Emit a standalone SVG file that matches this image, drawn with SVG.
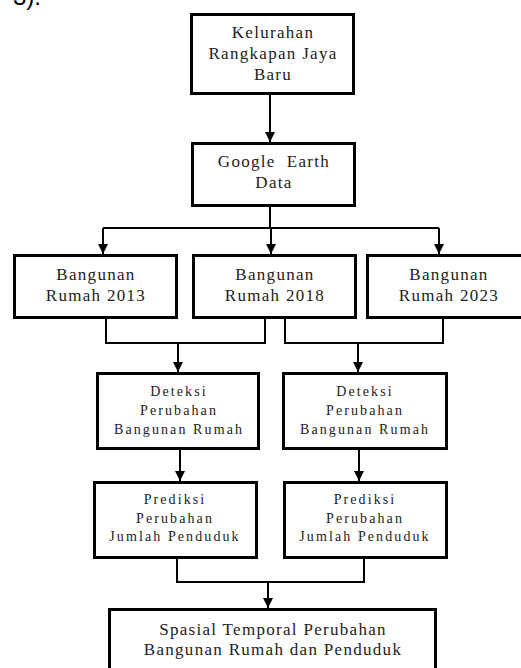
<svg xmlns="http://www.w3.org/2000/svg" width="521" height="668" viewBox="0 0 521 668">
<style>
.box{fill:#fff;stroke:#000;stroke-width:3}
.ln{fill:none;stroke:#000;stroke-width:2}
.t{font-family:"Liberation Serif","Times New Roman",serif;font-size:17px;letter-spacing:1.3px;text-anchor:middle;fill:#222}
.s{font-family:"Liberation Serif","Times New Roman",serif;font-size:14px;letter-spacing:2.1px;text-anchor:middle;fill:#222}
</style>
<defs>
<marker id="ah" markerUnits="userSpaceOnUse" markerWidth="10" markerHeight="10" refX="10" refY="5" orient="auto">
<path d="M0,0 L10,5 L0,10 z" fill="#000"/>
</marker>
</defs>
<rect width="521" height="668" fill="#fff"/>
<text x="13" y="5" font-family="Liberation Sans, Arial, sans-serif" font-size="24" fill="#000">3).</text>

<g id="connectors">
<line class="ln" x1="270" y1="94" x2="270" y2="142" marker-end="url(#ah)"/>
<polyline class="ln" points="270,206 270,228"/>
<polyline class="ln" points="103,228 439,228"/>
<line class="ln" x1="103" y1="228" x2="103" y2="254" marker-end="url(#ah)"/>
<line class="ln" x1="271" y1="228" x2="271" y2="254" marker-end="url(#ah)"/>
<line class="ln" x1="439" y1="228" x2="439" y2="254" marker-end="url(#ah)"/>
<polyline class="ln" points="106,318 106,343 265,343 265,318"/>
<polyline class="ln" points="285,318 285,343 443,343 443,318"/>
<line class="ln" x1="178" y1="343" x2="178" y2="372" marker-end="url(#ah)"/>
<line class="ln" x1="358" y1="343" x2="358" y2="372" marker-end="url(#ah)"/>
<line class="ln" x1="180" y1="449" x2="180" y2="481" marker-end="url(#ah)"/>
<line class="ln" x1="359" y1="449" x2="359" y2="481" marker-end="url(#ah)"/>
<polyline class="ln" points="177,558 177,582 364,582 364,558"/>
<line class="ln" x1="268" y1="582" x2="268" y2="608" marker-end="url(#ah)"/>
</g>

<g id="n-kelurahan">
<rect class="box" x="191.5" y="14.5" width="162" height="79"/>
<text class="t" x="273" y="38">Kelurahan</text>
<text class="t" x="273" y="59">Rangkapan Jaya</text>
<text class="t" x="273" y="80">Baru</text>
</g>
<g id="n-google">
<rect class="box" x="192.5" y="143.5" width="162" height="62"/>
<text class="t" x="274" y="167" xml:space="preserve">Google  Earth</text>
<text class="t" x="274" y="188">Data</text>
</g>
<g id="n-2013">
<rect class="box" x="14.5" y="255.5" width="162" height="62"/>
<text class="t" x="96" y="280">Bangunan</text>
<text class="t" x="96" y="301">Rumah 2013</text>
</g>
<g id="n-2018">
<rect class="box" x="193.5" y="255.5" width="162" height="62"/>
<text class="t" x="275" y="280">Bangunan</text>
<text class="t" x="275" y="301">Rumah 2018</text>
</g>
<g id="n-2023">
<rect class="box" x="367.5" y="255.5" width="165" height="62"/>
<text class="t" x="449" y="280">Bangunan</text>
<text class="t" x="449" y="301">Rumah 2023</text>
</g>
<g id="n-deteksi1">
<rect class="box" x="97.5" y="373.5" width="161" height="75"/>
<text class="s" x="179" y="396">Deteksi</text>
<text class="s" x="179" y="415">Perubahan</text>
<text class="s" x="179" y="434">Bangunan Rumah</text>
</g>
<g id="n-deteksi2">
<rect class="box" x="283.5" y="373.5" width="163" height="75"/>
<text class="s" x="365" y="396">Deteksi</text>
<text class="s" x="365" y="415">Perubahan</text>
<text class="s" x="365" y="434">Bangunan Rumah</text>
</g>
<g id="n-prediksi1">
<rect class="box" x="94.5" y="482.5" width="162" height="75"/>
<text class="s" x="175" y="504">Prediksi</text>
<text class="s" x="175" y="523">Perubahan</text>
<text class="s" x="175" y="541">Jumlah Penduduk</text>
</g>
<g id="n-prediksi2">
<rect class="box" x="284.5" y="482.5" width="162" height="75"/>
<text class="s" x="365" y="504">Prediksi</text>
<text class="s" x="365" y="523">Perubahan</text>
<text class="s" x="365" y="541">Jumlah Penduduk</text>
</g>
<g id="n-spasial">
<rect class="box" x="109.5" y="609.5" width="326" height="70"/>
<text class="t" x="273" y="635">Spasial Temporal Perubahan</text>
<text class="t" x="273" y="655">Bangunan Rumah dan Penduduk</text>
</g>
</svg>
